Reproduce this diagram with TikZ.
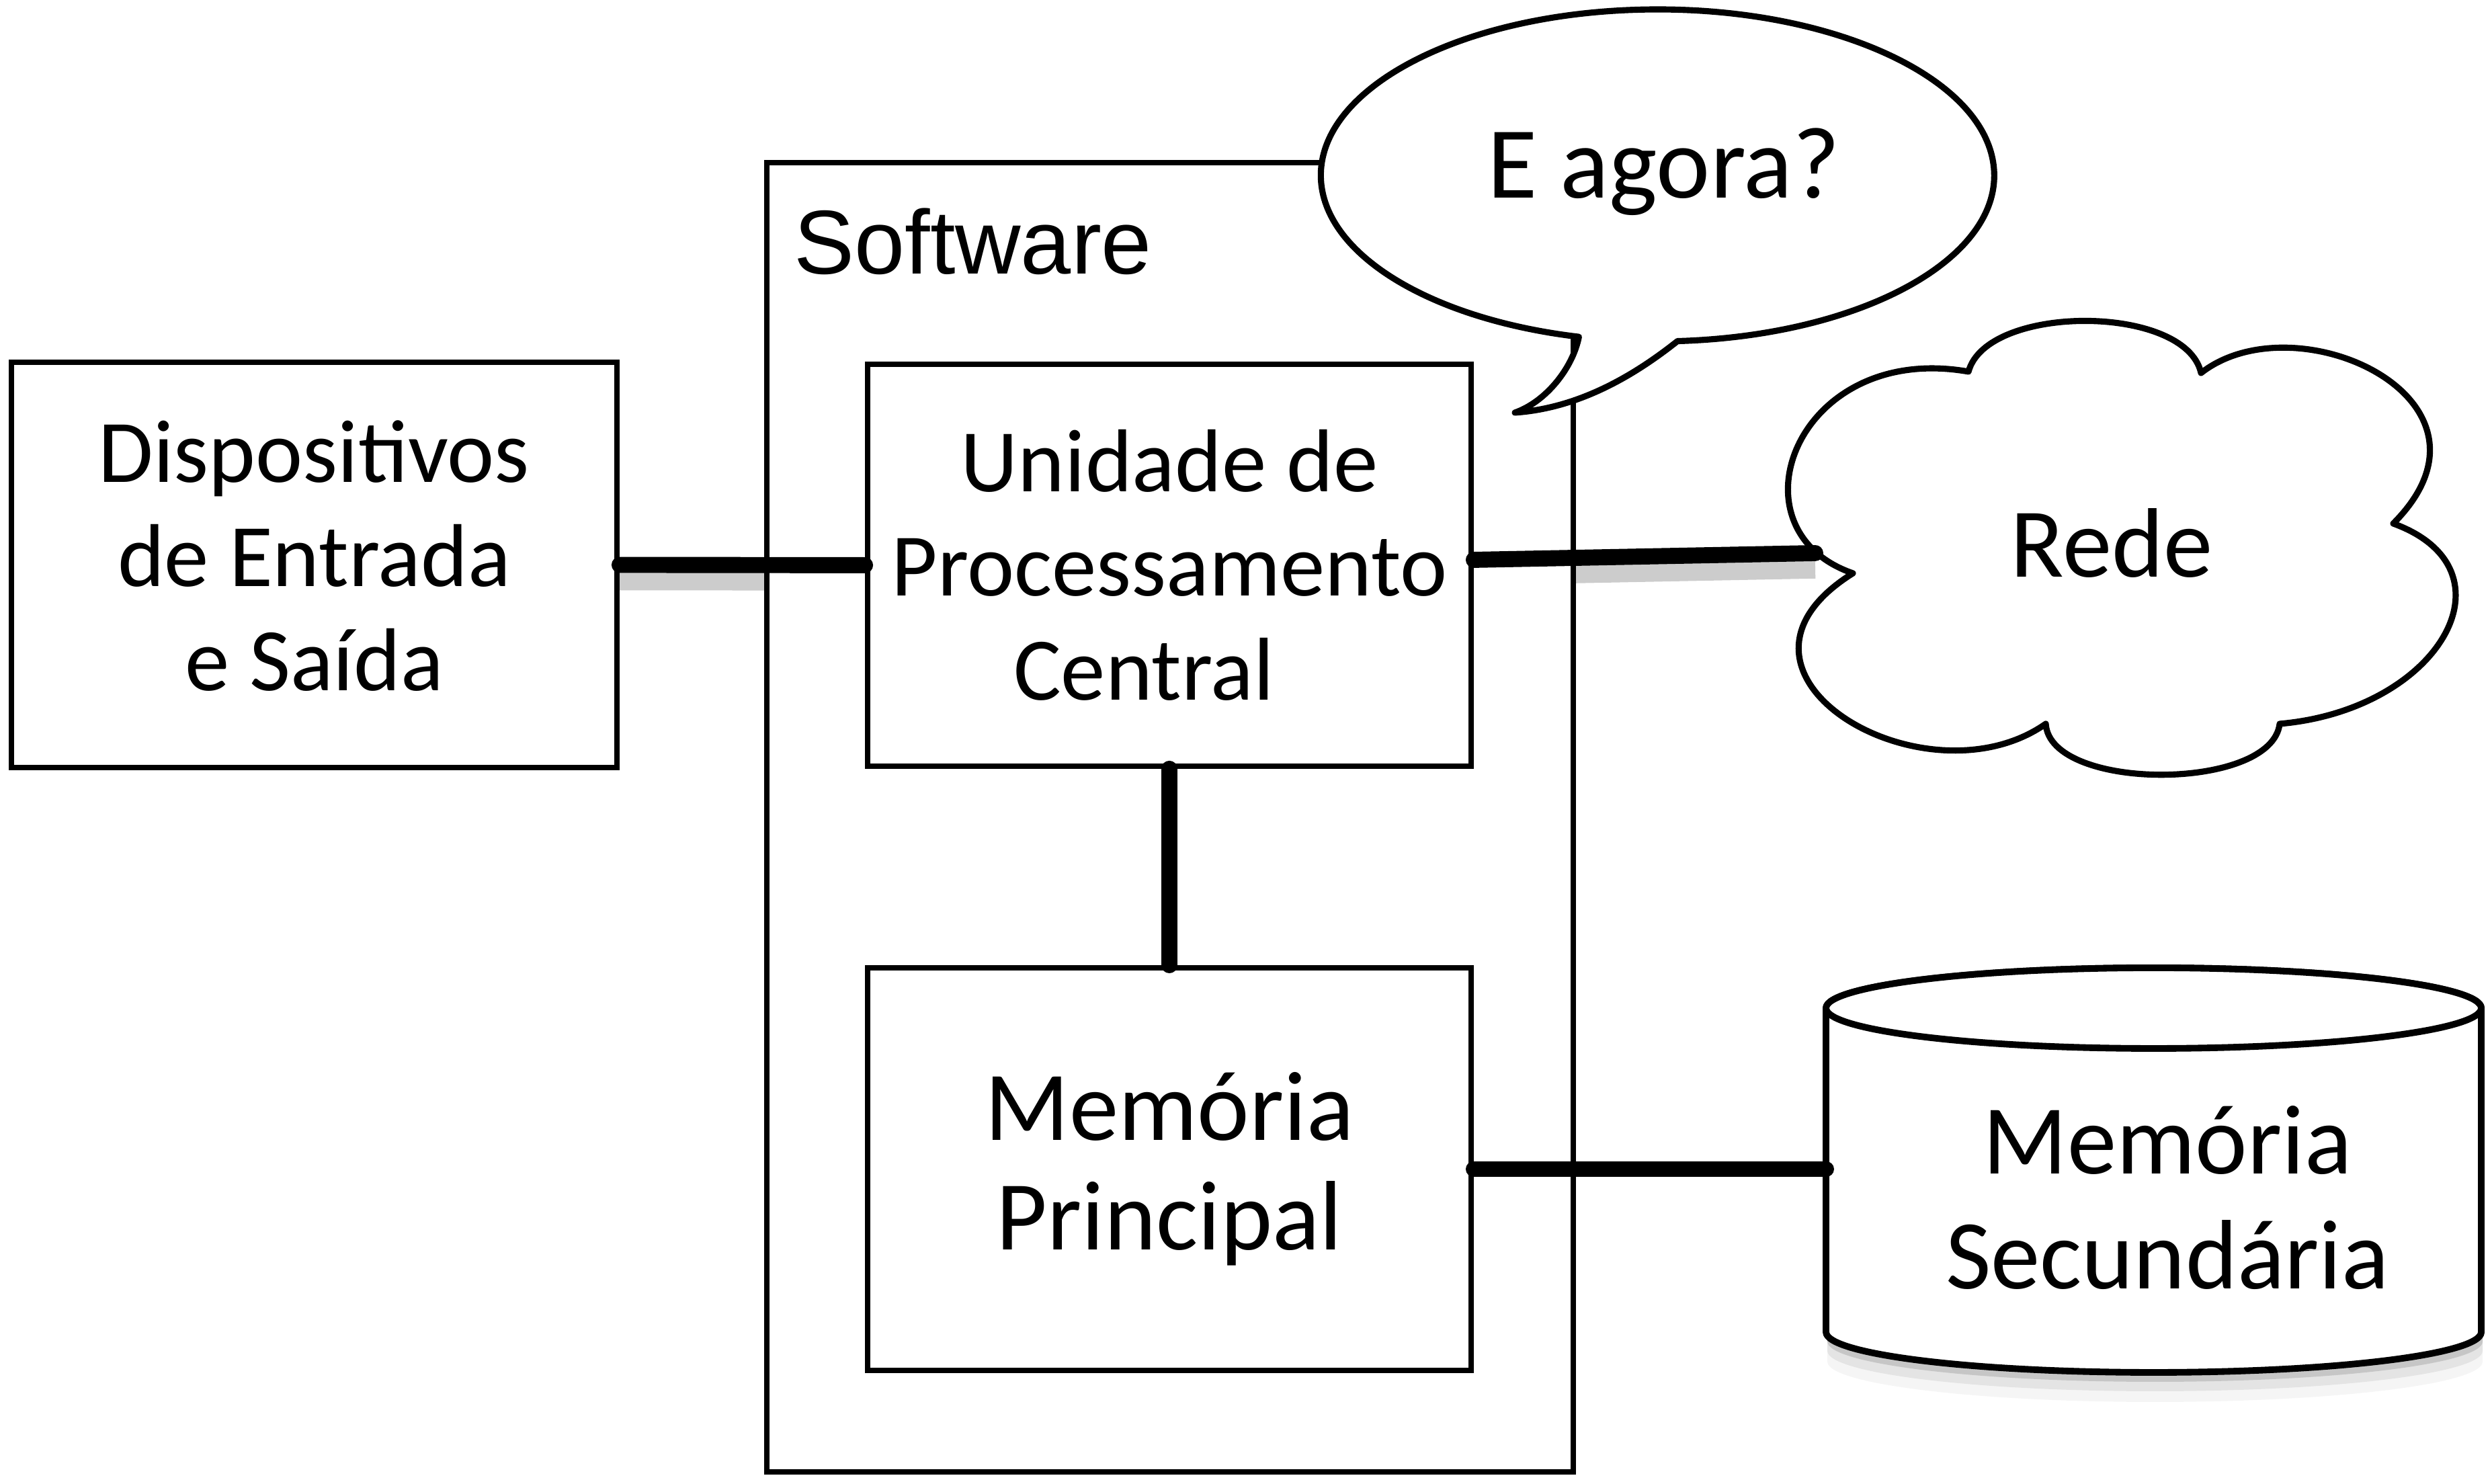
\documentclass[tikz,border=0pt]{standalone}
\usepackage{fontspec}
\setmainfont{Carlito}
\newfontfamily\helv{Liberation Sans}
\usetikzlibrary{positioning, calc, shadows, backgrounds}
\tikzset{
    box/.style={draw, line width=1.1pt, fill=white, inner sep=0pt},
    outline/.style={draw, line width=1.3pt, fill=white, line join=round},
    bus/.style={line width=3.4pt, line cap=round},
    bus_shadow/.style={line width=4.5pt, black!20},
    small_text/.style={font=\fontsize{18.9}{22}\selectfont, align=center},
    big_text/.style={font=\fontsize{20.9}{23.1}\selectfont, align=center}
}

\begin{document}
\begin{tikzpicture}
    \useasboundingbox (0,0) rectangle (18.54,11.04);
    % Boxes
    \node[box, small_text, minimum width=4.505cm, minimum height=3.015cm] (es) at (2.3375,6.8375) {Dispositivos\\de Entrada\\e Saída\rule[-0.14cm]{0pt}{0.14cm}};
    \node[box, minimum width=6.0cm, minimum height=9.74cm] (sw) at (8.705,4.96) {};
    \node[anchor=base west, inner sep=0pt, font=\helv\fontsize{19.2}{23}\selectfont] (sw_label) at (5.90,9.00) {Software};
    \node[box, small_text, minimum width=4.49cm, minimum height=2.99cm] (cpu) at (8.70,6.835) {Unidade de\\Processamento\\Central\hspace*{0.38cm}};
    \node[box, big_text, minimum width=4.49cm, minimum height=2.995cm] (memp) at (8.70,2.3425) {Memória\\Principal};
    % Speech bubble
    \draw[outline] (12.48,8.502) arc[start angle=273.4, end angle=616.5, x radius=2.505, y radius=1.235]
        .. controls (11.70,8.30) and (11.50,8.05) .. (11.27,7.97)
        .. controls (11.70,8.00) and (12.10,8.20) .. (12.48,8.502) -- cycle;
    \node[big_text, font=\fontsize{21.6}{24}\selectfont, anchor=base] (duvida) at (12.3775,9.565) {E agora?};
    % Cloud
    \draw[outline] (14.645,8.275)
        .. controls (14.78,8.78) and (16.26,8.78) .. (16.375,8.265)
        .. controls (17.084,8.819) and (18.724,8.064) .. (17.805,7.145)
        .. controls (18.745,6.803) and (18.155,5.759) .. (16.96,5.655)
        .. controls (16.90,5.15) and (15.25,5.15) .. (15.22,5.655)
        .. controls (14.319,5.024) and (12.598,6.033) .. (13.785,6.775)
        .. controls (12.839,7.101) and (13.365,8.501) .. (14.645,8.275) -- cycle;
    \node[big_text, anchor=base] (rede) at (15.71,6.745) {Rede};
    \coordinate (cloud_port) at (13.505,6.925);
    % Disk
    \draw[outline, line width=1.4pt,
          drop shadow={shadow xshift=0.01cm, shadow yshift=-0.22cm, opacity=0.08},
          drop shadow={shadow xshift=0.01cm, shadow yshift=-0.14cm, opacity=0.15},
          drop shadow={shadow xshift=0.01cm, shadow yshift=-0.07cm, opacity=0.3}]
        (13.585,3.54) -- (13.585,1.13) arc[start angle=180, end angle=360, x radius=2.4375, y radius=0.30]
        -- (18.46,3.54) arc[start angle=0, end angle=180, x radius=2.4375, y radius=0.30] -- cycle;
    \draw[outline, line width=1.4pt] (16.0225,3.54) ellipse[x radius=2.4375, y radius=0.30];
    \node[font=\fontsize{20.9}{24.3}\selectfont, align=center] (memsec) at (16.125,2.13) {Memória\\Secundária};
    \coordinate (disk_port) at (13.585,2.3425);
    % Buses
    \draw[bus] (es.east) -- (cpu.west);
    \draw[bus] ([yshift=0.04cm]cpu.east) -- (cloud_port);
    \draw[bus] (cpu.south) -- (memp.north);
    \draw[bus] (memp.east) -- (disk_port);
    \begin{scope}[on background layer]
        \draw[bus_shadow] ([yshift=-0.11cm]es.east) -- ([yshift=-0.11cm]cpu.west);
        \draw[bus_shadow] ([yshift=-0.07cm]cpu.east) -- ([yshift=-0.11cm]cloud_port);
    \end{scope}
\end{tikzpicture}
\end{document}
